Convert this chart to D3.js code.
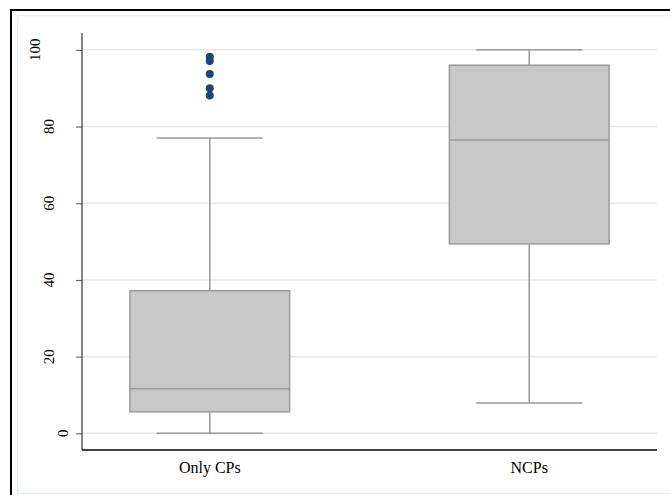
<!DOCTYPE html>
<html>
<head>
<meta charset="utf-8">
<script src="https://cdn.jsdelivr.net/npm/d3@7/dist/d3.min.js"></script>
<style>
  html, body { margin: 0; padding: 0; background: #fff; }
  svg { display: block; }
</style>
</head>
<body>
<script>
// ---- data ----
const categories = ["Only CPs", "NCPs"];
const lowerWhisker = [0, 7.9];
const q1Values = [5.6, 49.4];
const medianValues = [11.6, 76.5];
const q3Values = [37.2, 96.0];
const upperWhisker = [77.0, 100];
const outlierValues = [[98.2, 97.1, 93.7, 90.0, 88.1], []];
const yTickValues = [0, 20, 40, 60, 80, 100];

const W = 670, H = 495;
const svg = d3.select("body").append("svg").attr("width", W).attr("height", H);

// frames
svg.append("rect").attr("x", 11).attr("y", 10).attr("width", 700).attr("height", 600)
  .attr("fill", "none").attr("stroke", "#000").attr("stroke-width", 2);
svg.append("rect").attr("x", 17.5).attr("y", 15.5).attr("width", 700).attr("height", 478)
  .attr("fill", "#fff").attr("stroke", "#e8eff1").attr("stroke-width", 1.5);

const plot = { left: 82, right: 657, top: 33, bottom: 450 };

const y = d3.scaleLinear().domain([-4.35, 104.4]).range([plot.bottom, plot.top]);
const x = d3.scalePoint().domain(categories).range([plot.left, plot.right]).padding(0.4);
const step = x.step();
const boxW = step * 0.5;
const capW = step * 0.332;

// gridlines
svg.append("g").selectAll("line").data(yTickValues).join("line")
  .attr("x1", plot.left).attr("x2", plot.right)
  .attr("y1", d => y(d)).attr("y2", d => y(d))
  .attr("stroke", "#e6e6e6").attr("stroke-width", 1.5);

// y axis
const yAxis = svg.append("g").attr("transform", `translate(${plot.left},0)`)
  .call(d3.axisLeft(y).tickValues(yTickValues).tickSize(6).tickFormat(d3.format("d")));
yAxis.select(".domain").remove();
yAxis.selectAll(".tick line").attr("stroke", "#555").attr("stroke-width", 1);
yAxis.selectAll(".tick text").remove();
svg.append("line").attr("x1", plot.left).attr("x2", plot.left)
  .attr("y1", plot.top).attr("y2", plot.bottom)
  .attr("stroke", "#333").attr("stroke-width", 1.2);

// y tick labels (rotated)
const ylab = svg.append("g").selectAll("text").data(yTickValues).join("text")
  .attr("font-family", "Liberation Serif, Times New Roman, serif")
  .attr("font-size", 15).attr("fill", "#000")
  .attr("text-anchor", "middle").attr("dominant-baseline", "central")
  .text(d => d);
ylab.each(function(d) {
  const w = this.getComputedTextLength();
  const cx = 76.5 - 1.85 * w;
  d3.select(this).attr("transform", `translate(${cx},${y(d)}) rotate(-90)`);
});

// x axis
svg.append("line").attr("x1", plot.left).attr("x2", plot.right)
  .attr("y1", plot.bottom).attr("y2", plot.bottom)
  .attr("stroke", "#000").attr("stroke-width", 1.5);
svg.append("g").selectAll("text").data(categories).join("text")
  .attr("x", d => x(d)).attr("y", 473)
  .attr("text-anchor", "middle")
  .attr("font-family", "Liberation Serif, Times New Roman, serif")
  .attr("font-size", 16).attr("fill", "#000")
  .text(d => d);

const grey = "#9a9a9a";
const boxes = svg.append("g");
categories.forEach((c, i) => {
  const cx = x(c);
  const g = boxes.append("g");
  // whiskers
  g.append("line").attr("x1", cx).attr("x2", cx)
    .attr("y1", y(upperWhisker[i])).attr("y2", y(q3Values[i]))
    .attr("stroke", grey).attr("stroke-width", 1.5);
  g.append("line").attr("x1", cx).attr("x2", cx)
    .attr("y1", y(q1Values[i])).attr("y2", y(lowerWhisker[i]))
    .attr("stroke", grey).attr("stroke-width", 1.5);
  // caps
  [upperWhisker[i], lowerWhisker[i]].forEach(v => {
    g.append("line").attr("x1", cx - capW / 2).attr("x2", cx + capW / 2)
      .attr("y1", y(v)).attr("y2", y(v))
      .attr("stroke", grey).attr("stroke-width", 1.5);
  });
  // box
  g.append("rect").attr("x", cx - boxW / 2).attr("width", boxW)
    .attr("y", y(q3Values[i])).attr("height", y(q1Values[i]) - y(q3Values[i]))
    .attr("fill", "#c8c8c8").attr("stroke", grey).attr("stroke-width", 1.5);
  g.append("line").attr("x1", cx - boxW / 2).attr("x2", cx + boxW / 2)
    .attr("y1", y(medianValues[i])).attr("y2", y(medianValues[i]))
    .attr("stroke", grey).attr("stroke-width", 1.5);
  // outliers
  g.selectAll("circle").data(outlierValues[i]).join("circle")
    .attr("cx", cx).attr("cy", d => y(d)).attr("r", 4)
    .attr("fill", "#1a476f");
});
</script>
</body>
</html>
